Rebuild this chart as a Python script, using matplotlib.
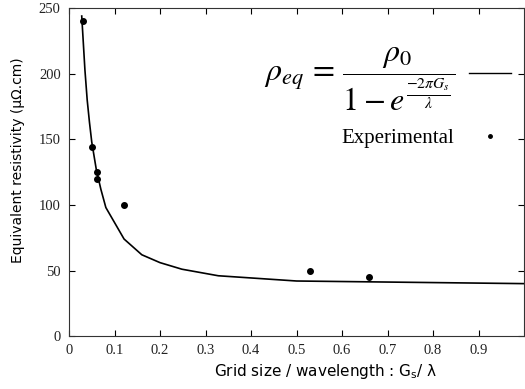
import matplotlib
matplotlib.use("Agg")
import matplotlib.pyplot as plt
from matplotlib.lines import Line2D

# experimental points
exp_x = [0.031, 0.050, 0.061, 0.061, 0.121, 0.53, 0.66]
exp_y = [240, 144, 125, 120, 100, 50, 45]

# model curve
fit_x = [0.028, 0.035, 0.040, 0.045, 0.050, 0.060, 0.070, 0.081, 0.121,
         0.160, 0.200, 0.248, 0.328, 0.500, 1.000]
fit_y = [244, 203, 180, 163, 148, 127, 112, 98, 74,
         62, 56, 51, 46, 42, 40]

xticks = [0, 0.1, 0.2, 0.3, 0.4, 0.5, 0.6, 0.7, 0.8, 0.9]
yticks = [0, 50, 100, 150, 200, 250]

fig = plt.figure(figsize=(5.25, 3.89), dpi=100)
ax = fig.add_axes([0.1314, 0.136, 0.867, 0.843])

ax.plot(fit_x, fit_y, color="black", lw=1.2)
ax.plot(exp_x, exp_y, "o", color="black", ms=4, ls="none")

ax.set_xlim(0, 1.0)
ax.set_ylim(0, 250)
ax.set_xticks(xticks)
ax.set_yticks(yticks)
ax.set_xticklabels([("%g" % t) for t in xticks])
ax.tick_params(direction="in", top=True, right=True, length=4, width=0.8,
               labelsize=10.5, pad=6)
for lab in ax.get_xticklabels() + ax.get_yticklabels():
    lab.set_fontfamily("Liberation Serif")
    lab.set_color("#222222")
for s in ax.spines.values():
    s.set_linewidth(0.8)
    s.set_color("#333333")

ax.set_xlabel(r"Grid size / wavelength : G$_\mathsf{s}$/ λ", fontsize=11,
              math_fontfamily="dejavusans")
ax.set_ylabel("Equivalent resistivity (μΩ.cm)", fontsize=10)
ax.xaxis.set_label_coords(0.565, -0.08)
ax.yaxis.set_label_coords(-0.097, 0.537)

formula = r"$\rho_{eq}\,=\,\dfrac{\rho_0}{1-e^{\frac{-2\pi G_s}{\lambda}}}$"
handles = [Line2D([], [], color="black", lw=1.0),
           Line2D([], [], marker="o", color="black", ms=2.5, ls="none")]
leg = ax.legend(handles, [formula, "Experimental"], loc="upper right",
                bbox_to_anchor=(1.012, 0.945), frameon=False, markerfirst=False,
                handlelength=2.0, labelspacing=0.75, handletextpad=0.7,
                prop={"family": "Liberation Serif", "size": 15})
for t in leg.get_texts():
    t.set_math_fontfamily("stix")
leg.get_texts()[0].set_fontsize(23)

fig.savefig("out.png", dpi=100)
